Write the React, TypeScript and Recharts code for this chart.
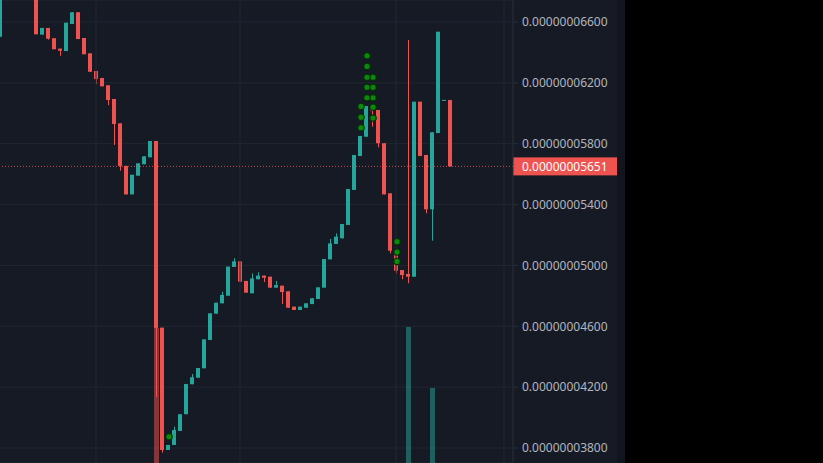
import React from 'react';
import { ComposedChart, Bar, Line, XAxis, YAxis, CartesianGrid, ReferenceLine } from 'recharts';

// Candle prices in units of 1e-11 (axis shows 0.0000000XXXX)
const opens = [
  6503, 6790, 6850, 6900, 6870, 6820, 6780, 6517, 6561, 6493,
  6425, 6409, 6587, 6664, 6495, 6394, 6278, 6232, 6184, 6094,
  5934, 5654, 5467, 5590, 5665, 5711, 5818, 4591, 3787, 3820,
  3912, 4022, 4219, 4262, 4324, 4510, 4683, 4751, 4801, 4990,
  5027, 4898, 4817, 4909, 4933, 4926, 4854, 4867, 4830, 4729,
  4707, 4722, 4746, 4779, 4854, 5040, 5141, 5178, 5266, 5496,
  5719, 5846, 6033, 6022, 5803, 5474, 5069, 4970, 4944, 4926,
  6076, 5726, 5369, 5870, 6085, 6087,
];
const highs = [
  6800, 6860, 6910, 6905, 6875, 6825, 6785, 6561, 6561, 6493,
  6425, 6595, 6664, 6664, 6495, 6394, 6278, 6232, 6184, 6094,
  5934, 5654, 5596, 5671, 5717, 5818, 5818, 4591, 3820, 3940,
  4022, 4221, 4286, 4326, 4514, 4685, 4755, 4827, 4992, 5047,
  5027, 4898, 4948, 4955, 4933, 4926, 4898, 4867, 4830, 4729,
  4729, 4751, 4784, 4856, 5042, 5174, 5211, 5272, 5502, 5726,
  5851, 6048, 6045, 6022, 5803, 5474, 5075, 4970, 6482, 6076,
  6076, 5726, 5875, 6536, 6088, 6087,
];
const lows = [
  6503, 6785, 6840, 6860, 6815, 6770, 6519, 6517, 6484, 6421,
  6378, 6409, 6587, 6488, 6388, 6273, 6192, 6177, 6054, 5792,
  5623, 5467, 5467, 5590, 5665, 5711, 4135, 3769, 3787, 3820,
  3912, 4022, 4219, 4262, 4324, 4510, 4683, 4751, 4801, 4990,
  4893, 4821, 4817, 4909, 4891, 4854, 4854, 4746, 4722, 4707,
  4707, 4722, 4746, 4779, 4854, 5040, 5141, 5178, 5266, 5496,
  5719, 5846, 5912, 5776, 5467, 5080, 4948, 4909, 4883, 4926,
  5719, 5343, 5163, 5870, 6085, 5651,
];
const closes = [
  6790, 6850, 6900, 6870, 6820, 6780, 6519, 6561, 6490, 6421,
  6411, 6595, 6664, 6488, 6388, 6273, 6225, 6177, 6087, 5930,
  5654, 5467, 5596, 5671, 5717, 5818, 4589, 3787, 3820, 3918,
  4022, 4221, 4265, 4326, 4514, 4685, 4755, 4806, 4992, 5027,
  4893, 4821, 4915, 4933, 4919, 4854, 4871, 4825, 4722, 4707,
  4729, 4751, 4784, 4856, 5042, 5145, 5189, 5272, 5502, 5726,
  5851, 6048, 6017, 5803, 5467, 5097, 4965, 4937, 4926, 6076,
  5719, 5369, 5875, 6536, 6088, 5651,
];

const volumeIndex = [26, 68, 72];
const volumeValues = [27.0, 27.2, 15.0];
const volumeUp = [false, true, true];

const markerIndex = [28, 60, 61, 62, 66];
const markerValues = [
  [3874],
  [6045, 5974, 5905],
  [6378, 6308, 6237, 6171, 6102],
  [6237, 6171, 6102, 6040, 5969],
  [5156, 5088, 5026],
];

const priceTicks = [3800, 4200, 4600, 5000, 5400, 5800, 6200, 6600];
const lastPrice = 5651;
const sessionBreaks = [16, 40, 66, 84];
const totalSlots = 86;

const UP = '#26a69a';
const DOWN = '#ef5350';
const BG = '#161a25';
const GRID = '#222632';
const FONT = "'Noto Sans', sans-serif";

const data = Array.from({ length: totalSlots }, (_, i) => {
  const row: any = { i };
  if (i < opens.length) {
    row.wick = [lows[i], highs[i]];
    row.body = [Math.min(opens[i], closes[i]), Math.max(opens[i], closes[i])];
    row.up = closes[i] >= opens[i];
  }
  const vi = volumeIndex.indexOf(i);
  if (vi >= 0) {
    row.vol = volumeValues[vi];
    row.volUp = volumeUp[vi];
  }
  const mi = markerIndex.indexOf(i);
  for (let k = 0; k < 5; k++) {
    row['m' + k] = mi >= 0 && k < markerValues[mi].length ? markerValues[mi][k] : null;
  }
  return row;
});

const BodyShape = (p: any) => {
  const { x, y, width, height, payload } = p;
  if (!payload || !payload.body || y == null || isNaN(y)) return <g />;
  const cx = x + width / 2;
  const top = height < 0 ? y + height : y;
  const h = Math.max(1, Math.abs(height));
  return <rect x={Math.round(cx - 2)} y={top} width={4} height={h} fill={payload.up ? UP : DOWN} />;
};

const WickShape = (p: any) => {
  const { x, y, width, height, payload } = p;
  if (!payload || !payload.wick || y == null || isNaN(y)) return <g />;
  const cx = x + width / 2;
  const top = height < 0 ? y + height : y;
  const h = Math.max(1, Math.abs(height));
  return <rect x={Math.round(cx - 0.5)} y={top} width={1} height={h} fill={payload.up ? UP : DOWN} />;
};

const VolShape = (p: any) => {
  const { x, y, width, height, payload } = p;
  if (!payload || payload.vol == null || y == null || isNaN(y)) return <g />;
  const cx = x + width / 2;
  const top = height < 0 ? y + height : y;
  return (
    <rect
      x={Math.round(cx - 2.5)}
      y={top}
      width={5}
      height={Math.abs(height)}
      fill={payload.volUp ? UP : DOWN}
      fillOpacity={0.5}
    />
  );
};

const renderDot = (p: any) => {
  const { cx, cy, value, index } = p;
  if (value == null || cx == null || cy == null || isNaN(cy)) return <g key={'e' + index} />;
  return <circle key={'d' + index} cx={cx + 1} cy={cy} r={3.2} fill="#0a8a0a" stroke="#062e06" strokeWidth={1.2} />;
};

const PriceTag = (p: any) => {
  const vb = p.viewBox || {};
  const x = vb.x + vb.width;
  const y = vb.y;
  return (
    <g>
      <rect x={x} y={y - 9} width={104} height={18} fill={DOWN} />
      <text x={x + 9} y={y + 4.5} fill="#ffffff" fontSize={12} fontFamily={FONT}>
        {'0.0000000' + lastPrice}
      </text>
    </g>
  );
};

export default function App() {
  return (
    <div style={{ position: 'fixed', left: 0, top: 0, width: 823, height: 463, background: '#000', overflow: 'hidden' }}>
      <div style={{ position: 'absolute', left: 0, top: 0, width: 617, height: 463, background: BG }} />
      <div style={{ position: 'absolute', left: 617, top: 0, width: 8, height: 463, background: '#12151d' }} />
      <div style={{ position: 'absolute', left: -3, top: 0 }}>
        <ComposedChart width={620} height={463} data={data} margin={{ top: 0, right: 0, bottom: 0, left: 0 }} barGap={0} barCategoryGap={0}>
          <CartesianGrid vertical={false} stroke={GRID} />
          <XAxis xAxisId={0} dataKey="i" type="category" hide />
          <XAxis xAxisId="w" dataKey="i" type="category" hide />
          <XAxis xAxisId="vx" dataKey="i" type="category" hide />
          <YAxis
            yAxisId={0}
            orientation="right"
            width={104}
            domain={[3701.4, 6744.6]}
            allowDataOverflow
            ticks={priceTicks}
            interval={0}
            tickFormatter={(v: number) => '0.0000000' + v}
            tick={{ fill: '#b2b5be', fontSize: 12, fontFamily: FONT }}
            axisLine={{ stroke: '#2a2e39' }}
            tickLine={{ stroke: '#2a2e39' }}
            tickSize={5}
            tickMargin={4}
          />
          <YAxis yAxisId="v" hide domain={[0, 92.6]} />
          {sessionBreaks.map((b) => (
            <ReferenceLine key={'s' + b} x={b} xAxisId={0} yAxisId={0} stroke={GRID} />
          ))}
          <ReferenceLine
            y={lastPrice}
            yAxisId={0}
            xAxisId={0}
            stroke={DOWN}
            strokeDasharray="1 2"
            strokeOpacity={0.85}
            label={<PriceTag />}
          />
          <Bar xAxisId="vx" yAxisId="v" dataKey="vol" shape={VolShape} isAnimationActive={false} />
          <Bar xAxisId="w" yAxisId={0} dataKey="wick" shape={WickShape} isAnimationActive={false} />
          <Bar xAxisId={0} yAxisId={0} dataKey="body" shape={BodyShape} isAnimationActive={false} />
          {[0, 1, 2, 3, 4].map((k) => (
            <Line
              key={'m' + k}
              xAxisId={0}
              yAxisId={0}
              dataKey={'m' + k}
              stroke="none"
              dot={renderDot}
              activeDot={false}
              isAnimationActive={false}
              connectNulls={false}
            />
          ))}
        </ComposedChart>
      </div>
    </div>
  );
}
